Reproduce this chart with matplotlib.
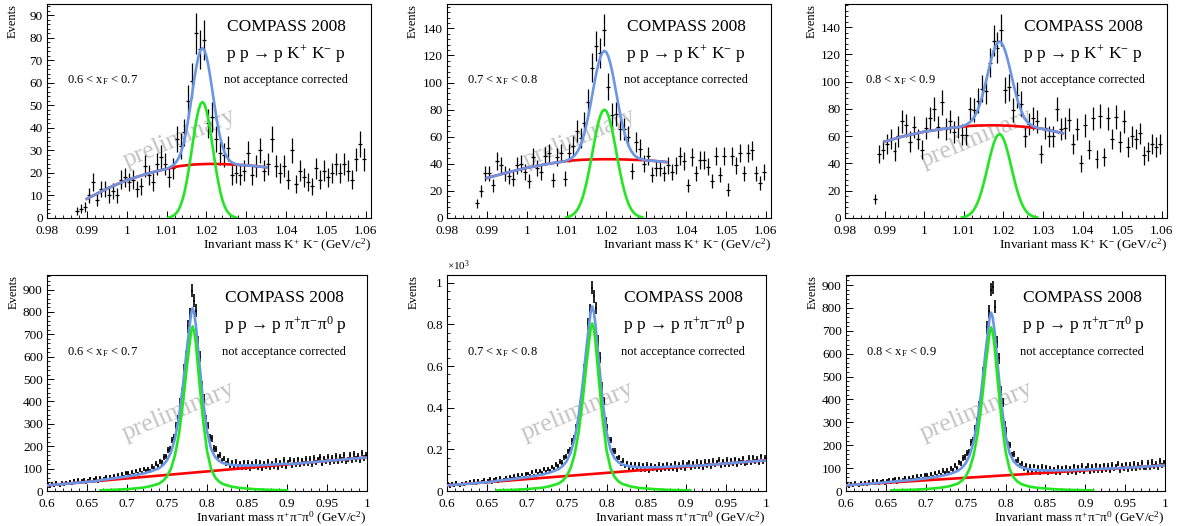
import numpy as np
import matplotlib
matplotlib.use("Agg")
import matplotlib.pyplot as plt
from matplotlib.ticker import MultipleLocator, FuncFormatter

plt.rcParams["font.family"] = ["Liberation Serif", "DejaVu Serif"]
plt.rcParams["mathtext.fontset"] = "custom"
plt.rcParams["mathtext.rm"] = "Liberation Serif"
plt.rcParams["mathtext.it"] = "Liberation Serif:italic"
plt.rcParams["mathtext.bf"] = "Liberation Serif:bold"

# ---------------- K+ K- panels (1 MeV bins, first centre 0.9875) ----------------
kk_first_bin = 0.9875
kk_bin_width = 0.001

kk_counts_06 = [3, 4, 5, 10, 16, 8, 13, 13, 10, 12, 10, 17, 18, 16, 17, 13, 14, 23, 19, 16,
                24, 27, 24, 18, 22, 35, 32, 38, 52, 61, 82, 75, 79, 42, 45, 35, 29, 28, 31, 19,
                20, 19, 21, 29, 19, 23, 30, 21, 24, 35, 23, 20, 23, 17, 30, 15, 21, 18, 16, 14,
                22, 17, 21, 18, 20, 24, 20, 24, 21, 17, 26, 33, 26]
kk_counts_07 = [11, 20, 33, 33, 24, 42, 39, 33, 31, 29, 39, 40, 34, 27, 45, 37, 34, 46, 48, 28,
                45, 48, 29, 48, 53, 64, 59, 70, 86, 111, 127, 122, 139, 97, 76, 77, 66, 66, 60, 35,
                56, 51, 40, 46, 32, 37, 37, 33, 39, 34, 39, 46, 42, 24, 45, 33, 43, 43, 38, 27,
                46, 32, 46, 21, 46, 39, 48, 33, 48, 50, 33, 26, 34]
kk_counts_08 = [14, 47, 50, 54, 58, 49, 60, 71, 68, 56, 67, 58, 50, 66, 73, 80, 67, 85, 65, 71,
                63, 67, 61, 61, 80, 79, 86, 95, 93, 114, 130, 125, 138, 94, 96, 79, 90, 84, 60, 69,
                73, 71, 47, 66, 60, 60, 80, 65, 66, 72, 54, 65, 40, 68, 50, 73, 43, 75, 45, 73,
                58, 74, 56, 71, 52, 60, 58, 62, 46, 49, 54, 52, 54]

# fit curves sampled on a common mass grid
kk_fit_x = [0.990, 0.995, 1.000, 1.005, 1.008] + \
    list(np.round(np.arange(1.009, 1.03001, 0.0005), 4)) + [1.0325, 1.035]

kk_bg_06 = [8.5, 13.0, 16.8, 19.6, 21.0,
            21.4, 21.6, 21.8, 22.0, 22.2, 22.4, 22.6, 22.8, 22.95, 23.1, 23.2, 23.3, 23.4, 23.5,
            23.6, 23.7, 23.75, 23.8, 23.85, 23.9, 23.9, 23.95, 23.95, 24.0, 24.0, 24.0, 24.0,
            24.0, 23.95, 23.95, 23.9, 23.9, 23.85, 23.8, 23.8, 23.75, 23.7, 23.65, 23.6, 23.55,
            23.5, 23.45, 23.4,
            23.0, 22.5]
kk_sig_06 = [0, 0, 0, 0, 0, 0, 0, 0,
             0.2, 0.5, 0.8, 1.4, 2.3, 3.6, 5.5, 8.1, 11.5, 15.8, 20.8, 26.5, 32.4, 38.3, 43.6,
             47.8, 50.6, 51.5, 50.6, 47.8, 43.6, 38.3, 32.4, 26.5, 20.8, 15.8, 11.5, 8.1, 5.5,
             3.6, 2.3, 1.4, 0.8, 0.5, 0.2,
             0, 0, 0, 0, 0, 0, 0]

kk_bg_07 = [29.5, 33.5, 37.0, 39.8, 41.2,
            41.6, 41.8, 42.0, 42.2, 42.4, 42.5, 42.6, 42.7, 42.8, 42.9, 43.0, 43.05, 43.1, 43.15,
            43.2, 43.25, 43.3, 43.3, 43.35, 43.35, 43.4, 43.4, 43.4, 43.4, 43.4, 43.4, 43.35,
            43.35, 43.3, 43.3, 43.25, 43.2, 43.15, 43.1, 43.05, 43.0, 42.95, 42.9, 42.85, 42.8,
            42.75, 42.7, 42.6,
            42.0, 41.3]
kk_sig_07 = [0, 0, 0, 0, 0, 0, 0,
             0.5, 0.9, 1.4, 2.3, 3.5, 5.3, 7.6, 10.8, 14.9, 20.0, 26.0, 32.9, 40.5, 48.5, 56.5,
             64.1, 70.6, 75.7, 78.9, 80.0, 78.9, 75.7, 70.6, 64.1, 56.5, 48.5, 40.5, 32.9, 26.0,
             20.0, 14.9, 10.8, 7.6, 5.3, 3.5, 2.3, 1.4, 0.9, 0.5,
             0, 0, 0, 0]

kk_bg_08 = [56.0, 60.2, 63.3, 65.5, 66.5,
            66.8, 66.95, 67.1, 67.25, 67.4, 67.5, 67.6, 67.7, 67.75, 67.8, 67.85, 67.9, 67.9,
            67.95, 67.95, 68.0, 68.0, 68.0, 68.0, 67.95, 67.95, 67.9, 67.85, 67.8, 67.75, 67.7,
            67.6, 67.5, 67.4, 67.3, 67.2, 67.1, 67.0, 66.85, 66.7, 66.55, 66.4, 66.25, 66.1,
            65.9, 65.7, 65.5, 65.3,
            63.8, 62.2]
kk_sig_08 = [0, 0, 0, 0, 0, 0,
             0.4, 0.7, 1.1, 1.8, 2.7, 4.0, 5.9, 8.3, 11.5, 15.3, 20.0, 25.3, 31.1, 37.3, 43.5,
             49.2, 54.3, 58.2, 60.6, 61.5, 60.6, 58.2, 54.3, 49.2, 43.5, 37.3, 31.1, 25.3, 20.0,
             15.3, 11.5, 8.3, 5.9, 4.0, 2.7, 1.8, 1.1, 0.7, 0.4,
             0, 0, 0, 0, 0]

# ---------------- pi+ pi- pi0 panels (2.5 MeV bins, first centre 0.60125) ----------------
om_first_bin = 0.60125
om_bin_width = 0.0025

om_counts_06 = [33, 20, 36, 24, 38, 27, 22, 37, 30, 40, 31, 44, 33, 47, 35, 49, 36, 45, 51, 38,
                48, 56, 40, 52, 58, 43, 60, 47, 55, 63, 52, 65, 55, 68, 56, 72, 60, 75, 62, 79,
                80, 68, 85, 72, 90, 76, 94, 81, 99, 88, 98, 90, 108, 100, 121, 112, 132, 128, 152, 155,
                182, 188, 228, 240, 292, 320, 395, 440, 545, 600, 735, 790, 895, 850, 805, 665, 600, 470, 412, 320,
                292, 240, 236, 190, 188, 155, 160, 136, 145, 122, 135, 112, 126, 108, 130, 111, 125, 104, 128, 106,
                127, 101, 122, 108, 131, 104, 126, 99, 124, 110, 131, 106, 125, 111, 136, 104, 129, 112, 138, 109,
                128, 140, 112, 134, 119, 141, 116, 137, 121, 143, 125, 144, 120, 148, 127, 141, 152, 122, 146, 131,
                154, 128, 149, 133, 156, 130, 151, 139, 160, 134, 140, 162, 137, 165, 143, 158, 139, 170, 147, 163]
om_counts_07 = [35, 21, 38, 25, 41, 28, 24, 39, 31, 43, 33, 47, 35, 50, 37, 52, 38, 48, 54, 40,
                51, 58, 42, 54, 61, 45, 63, 49, 57, 66, 55, 69, 58, 72, 59, 76, 63, 79, 65, 82,
                84, 71, 89, 75, 94, 80, 98, 85, 104, 92, 106, 96, 114, 106, 128, 118, 140, 136, 162, 165,
                190, 198, 238, 252, 305, 338, 412, 470, 585, 650, 800, 870, 975, 935, 880, 720, 640, 500, 432, 335,
                305, 245, 245, 192, 192, 156, 162, 133, 145, 120, 134, 108, 128, 104, 130, 107, 126, 101, 125, 103,
                126, 98, 124, 104, 118, 102, 127, 100, 123, 108, 129, 104, 124, 108, 133, 103, 127, 110, 136, 106,
                127, 139, 110, 133, 114, 140, 117, 136, 112, 141, 122, 142, 118, 145, 124, 138, 150, 119, 144, 127,
                150, 126, 147, 129, 153, 127, 148, 135, 157, 131, 137, 158, 134, 162, 140, 155, 136, 166, 144, 159]
om_counts_08 = [32, 19, 35, 23, 37, 26, 21, 36, 28, 39, 29, 41, 30, 44, 31, 45, 33, 42, 47, 34,
                45, 50, 36, 48, 53, 39, 55, 42, 50, 57, 46, 59, 49, 61, 50, 65, 54, 68, 55, 70,
                71, 58, 75, 62, 79, 66, 83, 71, 89, 77, 90, 80, 99, 90, 112, 101, 125, 121, 145, 148,
                166, 172, 212, 222, 272, 300, 372, 418, 520, 580, 715, 785, 880, 890, 805, 650, 580, 440, 385, 290,
                262, 205, 200, 158, 162, 128, 135, 110, 121, 98, 112, 86, 106, 83, 109, 85, 103, 80, 106, 84,
                103, 78, 100, 84, 95, 80, 104, 77, 99, 86, 104, 81, 99, 85, 108, 80, 103, 88, 111, 83,
                100, 112, 84, 106, 89, 113, 90, 108, 86, 112, 93, 111, 89, 115, 95, 108, 119, 90, 113, 98,
                118, 94, 114, 98, 120, 96, 115, 103, 124, 100, 104, 124, 101, 127, 107, 120, 103, 131, 110, 126]

om_fit_x = [0.600, 0.630, 0.657, 0.662, 0.667, 0.680, 0.700, 0.720, 0.730, 0.740, 0.745, 0.750,
            0.755, 0.760, 0.765, 0.770, 0.775, 0.778, 0.780, 0.782, 0.784, 0.786, 0.790, 0.795,
            0.800, 0.805, 0.810, 0.815, 0.820, 0.830, 0.840, 0.860, 0.880, 0.900, 0.905, 0.910,
            0.950, 1.000]

om_bg_06 = [25.0, 34.4, 42.8, 44.4, 45.9, 50.0, 56.3, 62.5, 65.6, 68.8, 70.3, 71.9, 73.4, 75.0,
            76.6, 78.1, 79.7, 80.6, 81.3, 81.9, 82.5, 83.1, 84.4, 85.9, 87.5, 89.1, 90.6, 92.2,
            93.8, 96.9, 100.0, 106.3, 112.5, 118.8, 120.3, 121.9, 134.4, 150.0]
om_sig_06 = [0, 0, 0, 0, 3, 5, 8, 15, 22, 33, 45, 65, 100, 160, 255, 395, 560, 650, 708, 735,
             712, 660, 505, 320, 180, 100, 62, 42, 31, 20, 14, 8, 5, 3, 0, 0, 0, 0]

om_bg_07 = [27.0, 36.0, 44.1, 45.6, 47.1, 51.0, 57.0, 63.0, 66.0, 69.0, 70.5, 72.0, 73.5, 75.0,
            76.5, 78.0, 79.5, 80.4, 81.0, 81.6, 82.2, 82.8, 84.0, 85.5, 87.0, 88.5, 90.0, 91.5,
            93.0, 96.0, 99.0, 105.0, 111.0, 117.0, 118.5, 120.0, 132.0, 147.0]
om_sig_07 = [0, 0, 0, 3, 4, 5, 9, 16, 24, 36, 49, 71, 110, 175, 280, 432, 613, 712, 775, 805,
             780, 723, 553, 350, 197, 110, 68, 46, 34, 22, 15, 9, 5, 3.5, 3, 0, 0, 0]

om_bg_08 = [25.0, 31.5, 37.4, 38.5, 39.6, 42.4, 46.8, 51.1, 53.3, 55.5, 56.5, 57.6, 58.7, 59.8,
            60.9, 62.0, 63.1, 63.7, 64.2, 64.6, 65.0, 65.5, 66.3, 67.4, 68.5, 69.6, 70.7, 71.8,
            72.9, 75.0, 77.2, 81.6, 85.9, 90.3, 91.3, 92.4, 101.1, 112.0]
om_sig_08 = [0, 0, 3, 3.5, 4, 5, 8, 15, 21, 32, 44, 63, 97, 156, 248, 384, 545, 632, 689, 715,
             693, 642, 491, 311, 175, 97, 60, 41, 30, 19, 14, 8, 5, 3.5, 3.2, 3, 0, 0]

xf_labels = ["0.6 < x$_{\\mathrm{F}}$ < 0.7", "0.7 < x$_{\\mathrm{F}}$ < 0.8", "0.8 < x$_{\\mathrm{F}}$ < 0.9"]
kk_reaction = "p p \u2192 p K$^{+}$ K$^{-}$ p"
om_reaction = "p p \u2192 p \u03c0$^{+}$\u03c0$^{-}$\u03c0$^{0}$ p"
kk_xlabel = "Invariant mass K$^{+}$ K$^{-}$ (GeV/c$^{2}$)"
om_xlabel = "Invariant mass \u03c0$^{+}$\u03c0$^{-}$\u03c0$^{0}$ (GeV/c$^{2}$)"

BLUE = "#6a96e6"
RED = "#ff0000"
GREEN = "#22e622"

W, H = 1178, 526
fig = plt.figure(figsize=(W / 100, H / 100), dpi=100)


def px_axes(left, top, right, bottom):
    return fig.add_axes([left / W, 1 - bottom / H, (right - left) / W, (bottom - top) / H])


def fmt_g(v, pos):
    return f"{v:g}"


def draw(ax, first, width, counts, fit_x, bg, sig, reaction, xf, xlabel, xlim, ylim, elw):
    counts = np.array(counts, dtype=float)
    centers = first + width * np.arange(len(counts))
    ax.errorbar(centers, counts, yerr=np.sqrt(counts), xerr=width / 2, fmt="none",
                ecolor="black", elinewidth=elw, capsize=0, zorder=2)
    fit_x = np.array(fit_x)
    bg = np.array(bg)
    sig = np.array(sig)
    ax.plot(fit_x, bg, color=RED, lw=1.9, zorder=3)
    ax.plot(fit_x, bg + sig, color=BLUE, lw=1.9, zorder=4)
    m = sig > 0
    ax.plot(fit_x[m], sig[m], color=GREEN, lw=1.9, zorder=4)

    ax.set_xlim(*xlim)
    ax.set_ylim(*ylim)
    for s in ax.spines.values():
        s.set_linewidth(0.8)
    ax.tick_params(which="both", direction="in", top=False, right=False, labelsize=9.5)
    ax.tick_params(axis="x", pad=5)
    ax.tick_params(axis="y", pad=3)
    ax.tick_params(which="major", length=5, width=0.7)
    ax.tick_params(which="minor", length=2.5, width=0.6)
    ax.xaxis.set_major_formatter(FuncFormatter(fmt_g))

    tr = ax.transAxes
    ax.text(0.41, 0.37, "preliminary", transform=tr, rotation=23, fontsize=18.5,
            color="#c4c4c4", ha="center", va="center", rotation_mode="anchor", zorder=1)
    ax.text(0.555, 0.875, "COMPASS 2008", transform=tr, fontsize=12.5)
    ax.text(0.553, 0.745, reaction, transform=tr, fontsize=12.5)
    ax.text(0.547, 0.63, "not acceptance corrected", transform=tr, fontsize=9)
    ax.text(0.062, 0.63, xf, transform=tr, fontsize=9)
    ax.text(1.0, -0.088, xlabel, transform=tr, fontsize=9.5, ha="right", va="top")
    ax.text(-0.105, 1.0, "Events", transform=tr, fontsize=9, rotation=90,
            ha="center", va="top")


# top row: K+ K-
top_boxes = [(47, 4, 371, 218), (447, 4, 771, 218), (845, 4, 1167, 218)]
kk_sets = [(kk_counts_06, kk_bg_06, kk_sig_06, (0, 95), 10),
           (kk_counts_07, kk_bg_07, kk_sig_07, (0, 158), 20),
           (kk_counts_08, kk_bg_08, kk_sig_08, (0, 157), 20)]
for box, (cnt, bg, sig, ylim, ystep), xf in zip(top_boxes, kk_sets, xf_labels):
    ax = px_axes(*box)
    draw(ax, kk_first_bin, kk_bin_width, cnt, kk_fit_x, bg, sig, kk_reaction, xf,
         kk_xlabel, (0.98, 1.0613), ylim, 0.9)
    ax.xaxis.set_major_locator(MultipleLocator(0.01))
    ax.xaxis.set_minor_locator(MultipleLocator(0.002))
    ax.yaxis.set_major_locator(MultipleLocator(ystep))
    ax.yaxis.set_minor_locator(MultipleLocator(ystep / 5))

# bottom row: pi+ pi- pi0
bot_boxes = [(47, 275, 367, 491), (447, 275, 766, 491), (846, 275, 1165, 491)]
om_sets = [(om_counts_06, om_bg_06, om_sig_06, (0, 965)),
           (om_counts_07, om_bg_07, om_sig_07, (0, 1037)),
           (om_counts_08, om_bg_08, om_sig_08, (0, 944))]
for i, (box, (cnt, bg, sig, ylim), xf) in enumerate(zip(bot_boxes, om_sets, xf_labels)):
    ax = px_axes(*box)
    draw(ax, om_first_bin, om_bin_width, cnt, om_fit_x, bg, sig, om_reaction, xf,
         om_xlabel, (0.6, 1.0), ylim, 1.2)
    ax.xaxis.set_major_locator(MultipleLocator(0.05))
    ax.xaxis.set_minor_locator(MultipleLocator(0.01))
    if i == 1:
        ax.yaxis.set_major_locator(MultipleLocator(200))
        ax.yaxis.set_minor_locator(MultipleLocator(40))
        ax.yaxis.set_major_formatter(FuncFormatter(lambda v, p: f"{v / 1000:g}"))
        ax.text(0.0, 1.01, "\u00d710$^{3}$", transform=ax.transAxes, fontsize=8,
                ha="left", va="bottom")
    else:
        ax.yaxis.set_major_locator(MultipleLocator(100))
        ax.yaxis.set_minor_locator(MultipleLocator(20))

fig.savefig("out.png", dpi=100)
